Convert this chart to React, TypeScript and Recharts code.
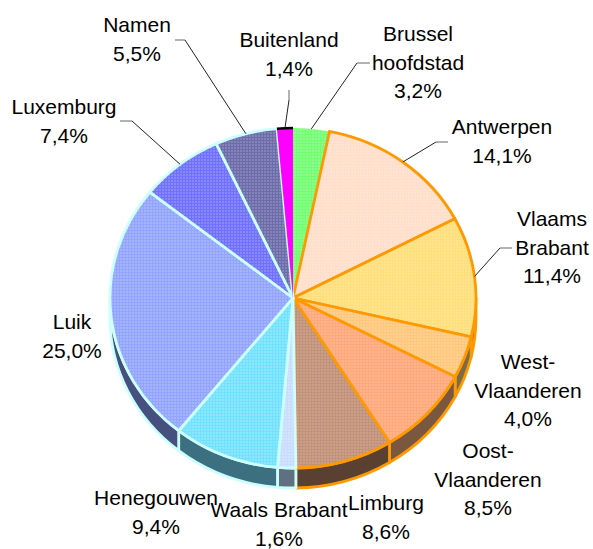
import React from "react";
import { PieChart, Pie } from "recharts";

const regions = ["Brussel hoofdstad", "Antwerpen", "Vlaams Brabant", "West-Vlaanderen", "Oost-Vlaanderen", "Limburg", "Waals Brabant", "Henegouwen", "Luik", "Luxemburg", "Namen", "Buitenland"];
const shares = [3.2, 14.1, 11.4, 4.0, 8.5, 8.6, 1.6, 9.4, 25.0, 7.4, 5.5, 1.4];

const labelLines = [["Brussel", "hoofdstad"], ["Antwerpen"], ["Vlaams", "Brabant"], ["West-", "Vlaanderen"], ["Oost-", "Vlaanderen"], ["Limburg"], ["Waals Brabant"], ["Henegouwen"], ["Luik"], ["Luxemburg"], ["Namen"], ["Buitenland"]];

// Styling and label placement (kept apart from the values)
const darkTone = ["#72ff72", "#ffdfca", "#ffdf7c", "#ffc87c", "#ffa87c", "#c0927a", "#c8dcff", "#72e0ff", "#92a4ff", "#7070ff", "#6c6caa", "#ff00ff"];
const lightTone = ["#8cff8c", "#ffe4d4", "#ffe490", "#ffd090", "#ffb48c", "#cc9f88", "#d4e4ff", "#8ce8ff", "#a4b4ff", "#8888ff", "#8484b8", "#ff00ff"];
const sideTone = ["#333", "#333", "#806c40", "#7d6a47", "#7a5840", "#5a4030", "#607080", "#3c7080", "#45507f", "#333", "#333", "#333"];
const edgeTone = ["none", "#ff9900", "#ff9900", "#ff9900", "#ff9900", "#ff9900", "#ccffff", "#ccffff", "#ccffff", "#ccffff", "#ccffff", "none"];
const labelCentre = [418, 502, 552, 528, 488, 386, 279, 156, 72, 64, 137, 289];
const labelBaseline = [41, 134, 226, 369, 458, 510, 517, 505, 329, 114, 32, 47];
const leaderElbow: (number[] | null)[] = [[357, 63, 370], [436, 142, 448], [500, 248, 512], null, null, null, null, null, null, [132, 121, 120], [185, 40, 175], [289, 100, 289]];
const leaderEndY = [63, 142, 248, 0, 0, 0, 0, 0, 0, 121, 40, 90];

const squash = 170 / 183;
const depth = 20;
const fontFamily = "'Liberation Sans', Arial, sans-serif";

const pt = (cx: number, cy: number, r: number, deg: number) => {
  const a = (deg * Math.PI) / 180;
  return [cx + r * Math.cos(a), cy - r * squash * Math.sin(a)];
};

const tableData = regions.map((name, i) => ({ name, value: shares[i], idx: i }));

function TopSlice(props: any) {
  const { cx, cy, outerRadius: r, startAngle, endAngle, payload } = props;
  const i = payload.idx ?? props.idx;
  const [x0, y0] = pt(cx, cy, r, startAngle);
  const [x1, y1] = pt(cx, cy, r, endAngle);
  const large = Math.abs(startAngle - endAngle) > 180 ? 1 : 0;
  const arc = `M${x0},${y0}A${r},${r * squash} 0 ${large} 1 ${x1},${y1}`;
  return (
    <g>
      <path
        d={`M${cx},${cy}L${x0},${y0}A${r},${r * squash} 0 ${large} 1 ${x1},${y1}Z`}
        fill={`url(#dither${i})`}
        stroke={edgeTone[i]}
        strokeWidth={2.8}
        strokeLinejoin="round"
      />
      {regions[i] === "Buitenland" && <path d={arc} fill="none" stroke="#000" strokeWidth={2.5} />}
    </g>
  );
}

function SideSlice(props: any) {
  const { cx, cy, outerRadius: r, startAngle, endAngle, payload } = props;
  const i = payload.idx ?? props.idx;
  const s = Math.min(startAngle, 0);
  const e = Math.max(endAngle, -180);
  if (s <= e) return <g />;
  const [x0, y0] = pt(cx, cy, r, s);
  const [x1, y1] = pt(cx, cy, r, e);
  return (
    <path
      d={`M${x0},${y0}A${r},${r * squash} 0 0 1 ${x1},${y1}L${x1},${y1 + depth}A${r},${r * squash} 0 0 0 ${x0},${y0 + depth}Z`}
      fill={sideTone[i]}
      stroke={edgeTone[i]}
      strokeWidth={2.8}
      strokeLinejoin="round"
    />
  );
}

function SliceLabel(props: any) {
  const { cx, cy, outerRadius: r, midAngle, index } = props;
  const lines = [...labelLines[index], shares[index].toFixed(1).replace(".", ",") + "%"];
  const elbow = leaderElbow[index];
  const [sx, sy] = pt(cx, cy, r, midAngle);
  return (
    <g>
      {elbow && (
        <>
          <polyline points={`${sx},${sy} ${elbow[0]},${elbow[1]}`} fill="none" stroke="#222" strokeWidth={1} />
          <polyline points={`${elbow[0]},${elbow[1]} ${elbow[2]},${leaderEndY[index]}`} fill="none" stroke="#666" strokeWidth={1} />
        </>
      )}
      <text x={labelCentre[index]} y={labelBaseline[index]} textAnchor="middle" fontSize={21} fontFamily={fontFamily} fill="#000">
        {lines.map((l, k) => (
          <tspan key={k} x={labelCentre[index]} dy={k === 0 ? 0 : 28.5}>
            {l}
          </tspan>
        ))}
      </text>
    </g>
  );
}

export default function App() {
  return (
    <div style={{ position: "absolute", left: 0, top: 0, width: 593, height: 549, background: "#fff" }}>
      <PieChart width={593} height={549} margin={{ top: 0, right: 0, bottom: 0, left: 0 }} accessibilityLayer={false}>
        <defs>
          {regions.map((_, i) => (
            <pattern key={i} id={`dither${i}`} width={3} height={3} patternUnits="userSpaceOnUse">
              <rect width={3} height={3} fill={darkTone[i]} />
              <rect x={0} y={0} width={2} height={2} fill={lightTone[i]} />
            </pattern>
          ))}
        </defs>
        <Pie
          data={tableData}
          dataKey="value"
          nameKey="name"
          cx={293}
          cy={298}
          outerRadius={183}
          startAngle={90}
          endAngle={-270}
          isAnimationActive={false}
          shape={SideSlice}
          label={false}
          labelLine={false}
          rootTabIndex={-1}
        />
        <Pie
          data={tableData}
          dataKey="value"
          nameKey="name"
          cx={293}
          cy={298}
          outerRadius={183}
          startAngle={90}
          endAngle={-270}
          isAnimationActive={false}
          shape={TopSlice}
          label={SliceLabel}
          labelLine={false}
          rootTabIndex={-1}
        />
      </PieChart>
    </div>
  );
}
